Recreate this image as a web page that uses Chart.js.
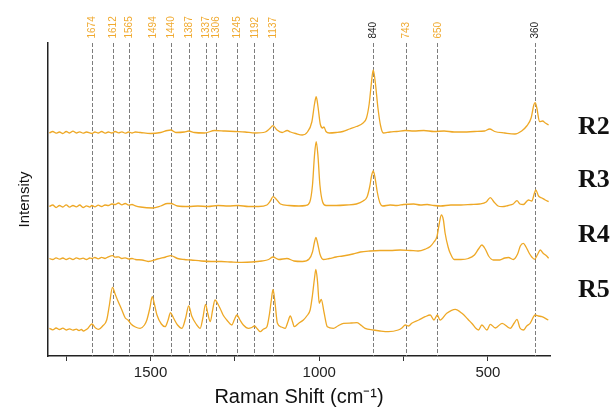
<!DOCTYPE html>
<html>
<head>
<meta charset="utf-8">
<script src="https://cdn.jsdelivr.net/npm/chart.js@4.4.0/dist/chart.umd.min.js"></script>
<style>
  html, body { margin: 0; padding: 0; background: #fff; }
</style>
</head>
<body>
<canvas id="raman" width="614" height="409"></canvas>
<script>
// peak positions marked with dashed lines (cm-1)
const peakMarks = [1674, 1612, 1565, 1494, 1440, 1387, 1337, 1306, 1245, 1192, 1137, 840, 743, 650, 360];
const darkMarks = [840, 360];
const seriesNames = ['R2', 'R3', 'R4', 'R5'];
const xTicks = [1750, 1500, 1250, 1000, 750, 500];

// spectra (offset intensities, arbitrary units)
const r2Shift = [1800, 1790, 1780, 1770, 1760, 1750, 1740, 1730, 1720, 1710, 1700, 1690, 1680, 1674, 1665, 1655, 1645, 1635, 1625, 1615, 1605, 1595, 1585, 1575, 1565, 1555, 1545, 1530, 1500, 1470, 1450, 1440, 1425, 1400, 1387, 1370, 1340, 1310, 1280, 1250, 1220, 1190, 1160, 1148, 1137, 1125, 1110, 1095, 1085, 1070, 1050, 1035, 1022, 1014, 1009, 1004, 997, 990, 986, 980, 970, 950, 930, 910, 890, 870, 860, 852, 846, 840, 834, 826, 818, 810, 790, 770, 745, 720, 690, 660, 630, 600, 570, 540, 510, 495, 480, 450, 420, 400, 385, 372, 364, 360, 355, 347, 338, 330, 320];
const r2Int = [223, 224.5, 222.8, 224, 222.5, 224.5, 223, 224.8, 223, 224.2, 222.8, 224, 223.2, 222.5, 224, 223, 224.5, 222.8, 224, 223, 224.5, 223.2, 224.2, 222.8, 224, 223, 224, 223.5, 222.5, 223.5, 225.5, 226, 223.5, 224, 225, 223.5, 223, 225.5, 225, 224.5, 224, 223, 224, 227, 230.3, 226, 223.5, 225.5, 224, 222.5, 221, 224, 234, 252, 259.3, 250, 232, 228, 229, 224.5, 223, 223.5, 224.5, 227, 229.5, 233, 238, 252, 271, 286, 274, 248, 230, 223, 224, 224.5, 225.5, 225, 225.5, 224.5, 225, 224, 224, 224.5, 225, 227, 224.5, 223, 222, 225, 230, 238, 251, 253.3, 248, 234.3, 235, 233, 231];

const r3Shift = [1800, 1790, 1780, 1770, 1760, 1750, 1740, 1730, 1720, 1710, 1700, 1690, 1680, 1674, 1665, 1655, 1645, 1635, 1625, 1615, 1605, 1595, 1585, 1575, 1565, 1555, 1545, 1530, 1494, 1470, 1450, 1440, 1420, 1387, 1360, 1330, 1300, 1270, 1240, 1210, 1180, 1155, 1145, 1137, 1128, 1115, 1090, 1060, 1040, 1028, 1020, 1014, 1009, 1004, 998, 990, 980, 950, 920, 890, 870, 858, 850, 845, 840, 835, 828, 820, 812, 790, 770, 750, 720, 700, 680, 660, 640, 610, 580, 550, 525, 505, 493, 482, 470, 458, 440, 425, 414, 405, 395, 380, 370, 362, 358, 350, 340, 330, 320];
const r3Int = [149.5, 151, 148.5, 150.5, 149, 151.2, 148.8, 150.5, 149.2, 151, 148.5, 150.2, 149, 150.5, 149.2, 150.8, 149.5, 151, 150.5, 152, 151.5, 153, 151.2, 152.5, 150.8, 151.5, 150.2, 149, 148, 150, 152.5, 152.5, 150, 149.5, 150, 149.5, 150.5, 150, 150.5, 149.5, 149.5, 151, 155, 159.3, 157, 152, 150.5, 150, 150.5, 154, 171, 201, 214.3, 201, 171, 154, 150.5, 150.5, 151, 152, 155, 159.3, 170, 180, 185, 179, 164, 153, 150, 151, 150.5, 151.5, 152, 151, 151.5, 150.5, 150, 151, 151, 151.5, 152, 154, 158.3, 154, 150, 149.3, 150.5, 152, 155.3, 152, 151.5, 156, 155, 163, 166, 160, 158, 156, 154.3];

const r4Shift = [1800, 1790, 1780, 1770, 1760, 1750, 1740, 1730, 1720, 1710, 1700, 1690, 1680, 1674, 1665, 1655, 1645, 1635, 1625, 1612, 1605, 1595, 1585, 1575, 1565, 1555, 1545, 1525, 1507, 1480, 1455, 1440, 1420, 1400, 1380, 1350, 1320, 1290, 1260, 1230, 1200, 1170, 1150, 1137, 1120, 1096, 1075, 1050, 1030, 1020, 1014, 1010, 1005, 998, 988, 970, 950, 930, 900, 878, 850, 820, 790, 760, 730, 707, 685, 671, 660, 651, 645, 638, 632, 627, 618, 612, 600, 580, 558, 540, 528, 518, 508, 498, 484, 465, 450, 439, 425, 412, 404, 395, 387, 378, 370, 362, 352, 345, 337, 326, 320];
const r4Int = [97.5, 96.5, 98.2, 96.8, 98, 96.5, 97.8, 96.5, 98.2, 97, 97.8, 96.5, 98, 97.5, 98.5, 97.2, 98.6, 97.5, 99.2, 100.3, 98.8, 99.2, 97.5, 98.2, 97, 97.5, 96.5, 96, 94.5, 97, 99, 100.3, 97.5, 96.5, 96, 95, 94.5, 94.5, 94, 93.7, 94, 95, 96.5, 99, 96.5, 97.5, 95, 94.5, 97, 104, 114, 118.5, 113, 102, 96.5, 97.5, 99, 100, 102, 104, 105, 105.5, 105.5, 106, 105.5, 105, 107, 109.5, 114, 119.5, 131, 141, 136, 123, 109, 103, 96.5, 96.5, 97.5, 101, 107, 111, 107, 100, 96, 96, 98, 98.5, 96.5, 102, 110, 112.7, 109, 103, 99, 96.7, 102, 106, 103, 100, 97.7];

const r5Shift = [1800, 1790, 1780, 1770, 1760, 1750, 1740, 1730, 1720, 1712, 1705, 1699, 1692, 1686, 1674, 1663, 1654, 1642, 1630, 1622, 1613, 1605, 1598, 1585, 1575, 1567, 1558, 1545, 1531, 1518, 1511, 1502, 1495, 1488, 1481, 1468, 1457, 1448, 1441, 1432, 1420, 1407, 1396, 1387, 1378, 1365, 1353, 1345, 1337, 1330, 1323, 1316, 1309, 1302, 1294, 1285, 1274, 1259, 1252, 1244, 1235, 1225, 1210, 1200, 1192, 1183, 1175, 1165, 1155, 1148, 1142, 1137, 1131, 1124, 1112, 1101, 1093, 1086, 1079, 1074, 1060, 1047, 1037, 1027, 1020, 1014, 1010, 1005, 1000, 994, 986, 976, 958, 945, 928, 905, 888, 875, 864, 840, 820, 795, 766, 755, 745, 735, 726, 705, 686, 671, 660, 650, 642, 622, 597, 577, 560, 548, 528, 518, 503, 493, 478, 458, 434, 422, 414, 405, 395, 385, 375, 360, 350, 340, 321];
const r5Int = [27.7, 26.2, 28, 26.5, 27.8, 26, 27.2, 25.8, 26.8, 25.5, 26.5, 25, 26.2, 27.5, 32, 28, 26.7, 30, 36, 51, 68.7, 62, 56, 46, 38, 36, 32, 29, 27.7, 31, 36, 48, 59.3, 51, 41, 32, 29.3, 36, 43.3, 38, 31, 27.7, 38, 50, 40, 32, 27.7, 38, 51.7, 42, 34.3, 46, 56, 53, 47.7, 41, 36, 31, 36, 41, 36, 31, 27.7, 28.5, 30, 27, 24.3, 27, 29.3, 41, 56, 66.7, 53, 32.7, 29, 27.7, 34, 40, 34, 29.3, 33, 36, 40, 46, 61, 78, 86.7, 74, 52.7, 56.7, 44, 29.3, 27.7, 30, 32.7, 33, 33.3, 30.5, 27.7, 26, 25, 24.3, 26, 28, 31, 30, 32.7, 36, 39.3, 41, 36, 41, 36, 42.7, 46.7, 42.7, 37, 32.7, 26, 31, 26, 31.7, 28, 32.7, 27.7, 33, 36.7, 28, 26, 30, 32.7, 41, 40, 39.3, 36];

const spectra = [[r2Shift, r2Int], [r3Shift, r3Int], [r4Shift, r4Int], [r5Shift, r5Int]];

// dashed peak lines, top labels and sample names
const markerPlugin = {
  id: 'markers',
  beforeDatasetsDraw(chart) {
    const {ctx, chartArea, scales: {x}} = chart;
    ctx.save();
    ctx.strokeStyle = '#7d7d7d';
    ctx.lineWidth = 1;
    ctx.setLineDash([4, 2]);
    peakMarks.forEach(v => {
      const px = Math.round(x.getPixelForValue(v)) + 0.5;
      ctx.beginPath();
      ctx.moveTo(px, chartArea.top);
      ctx.lineTo(px, chartArea.bottom);
      ctx.stroke();
    });
    ctx.restore();
  },
  afterDraw(chart) {
    const {ctx, chartArea, scales: {x}} = chart;
    ctx.save();
    ctx.font = '10px "Liberation Sans", Arial, sans-serif';
    ctx.textAlign = 'left';
    ctx.textBaseline = 'middle';
    peakMarks.forEach(v => {
      ctx.save();
      ctx.translate(x.getPixelForValue(v) + 0.5, chartArea.top - 4.5);
      ctx.rotate(-Math.PI / 2);
      ctx.fillStyle = darkMarks.includes(v) ? '#222' : '#f0aa30';
      ctx.fillText(String(v), 0, 0);
      ctx.restore();
    });
    ctx.font = 'bold 26px "Liberation Serif", "Times New Roman", serif';
    ctx.fillStyle = '#111';
    ctx.textBaseline = 'alphabetic';
    const nameY = [134, 187, 242, 297];
    seriesNames.forEach((n, i) => ctx.fillText(n, 578, nameY[i]));
    ctx.restore();
  }
};

new Chart(document.getElementById('raman'), {
  type: 'line',
  data: {
    datasets: spectra.map(([xs, ys], i) => ({
      label: seriesNames[i],
      data: xs.map((v, j) => ({x: v, y: ys[j]})),
      borderColor: '#eea826',
      borderWidth: 1.3,
      pointRadius: 0,
      cubicInterpolationMode: 'monotone'
    }))
  },
  options: {
    responsive: false,
    animation: false,
    devicePixelRatio: 1,
    layout: {padding: {left: 0, top: 43, right: 64, bottom: 0}},
    plugins: {legend: {display: false}, tooltip: {enabled: false}},
    scales: {
      x: {
        type: 'linear',
        reverse: true,
        min: 316,
        max: 1804,
        afterBuildTicks: s => { s.ticks = xTicks.map(v => ({value: v})); },
        afterFit: s => { s.height = 53; },
        grid: {drawOnChartArea: false, drawTicks: true, tickLength: 5, color: '#333'},
        border: {display: true, color: '#222', width: 1.5},
        ticks: {
          autoSkip: false,
          maxRotation: 0,
          padding: 3,
          color: '#222',
          font: {family: '"Liberation Sans", Arial, sans-serif', size: 15},
          callback: v => (v % 500 === 0 ? String(v) : '')
        },
        title: {
          display: true,
          text: 'Raman Shift (cm⁻¹)',
          color: '#111',
          padding: 0,
          font: {family: '"Liberation Sans", Arial, sans-serif', size: 20}
        }
      },
      y: {
        min: 0,
        max: 313,
        afterFit: s => { s.width = 48; },
        grid: {display: false},
        border: {display: true, color: '#222', width: 1.5},
        ticks: {display: false},
        title: {
          display: true,
          text: 'Intensity',
          color: '#111',
          padding: {top: 16, bottom: 0},
          font: {family: '"Liberation Sans", Arial, sans-serif', size: 15}
        }
      }
    }
  },
  plugins: [markerPlugin]
});
</script>
</body>
</html>
